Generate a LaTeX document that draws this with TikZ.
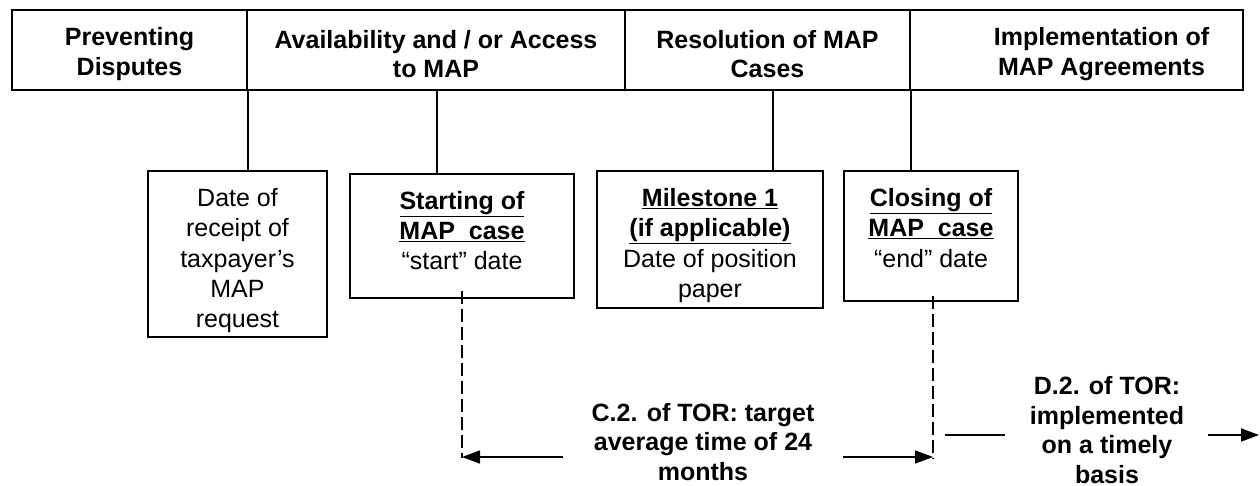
\documentclass[tikz,border=0pt]{standalone}
\usepackage{fontspec}
\setmainfont{Liberation Sans}
\usetikzlibrary{arrows.meta}
\tikzset{
  cell/.style={draw, line width=1.8pt, inner sep=0pt, minimum height=80pt},
  note/.style={align=center, font=\fontsize{25}{29.5}\selectfont\bfseries, inner sep=0pt},
  celltxt/.style={note, yshift=-4pt},
  datebox/.style={draw, line width=1.8pt, inner sep=0pt},
  link/.style={line width=1.8pt},
  dline/.style={line width=1.6pt, dash pattern=on 13pt off 5pt},
  arr/.style={line width=1.5pt, -{Triangle[length=18pt,width=13pt]}},
  plain/.style={line width=1.5pt}
}
\newcommand{\bxt}[3]{\parbox[c][#2][t]{#1}{\centering\fontsize{25}{30}\selectfont\rule{0pt}{36pt}#3}}
\begin{document}
\begin{tikzpicture}[x=1pt,y=-1pt]
\useasboundingbox (0,0) rectangle (1260,486);
% top bar cells
\node[cell, minimum width=235pt, label={[celltxt]center:Preventing\\Disputes}] (c1) at (129.5,50) {};
\node[cell, minimum width=378pt, label={[celltxt]center:Availability and / or Access\\to MAP}] (c2) at (436,50) {};
\node[cell, minimum width=285pt, label={[celltxt]center:Resolution of MAP\\Cases}] (c3) at (767.5,50) {};
\node[cell, minimum width=333pt, label={[celltxt, xshift=25pt]center:Implementation of\\MAP Agreements}] (c4) at (1076.5,50) {};
% date boxes
\node[datebox] (b1) at (237.5,254) {\bxt{179pt}{166pt}{Date of\\receipt of\\taxpayer’s\\MAP\\request}};
\node[datebox] (b2) at (462,236) {\bxt{224pt}{124pt}{\textbf{\underline{Starting of}}\\\textbf{\underline{MAP\ \ case}}\\“start” date}};
\node[datebox] (b3) at (710,239.5) {\bxt{226pt}{137pt}{\textbf{\underline{Milestone 1}}\\\textbf{\underline{(if applicable)}}\\Date of position\\paper}};
\node[datebox] (b4) at (931,236) {\bxt{174pt}{130pt}{\textbf{\underline{Closing of}}\\\textbf{\underline{MAP\ \ case}}\\“end” date}};
% connectors from bar to boxes
\coordinate (k2) at (437,90);
\coordinate (k3) at (773,90);
\draw[link] (c1.south east) -- (c1.south east |- b1.north);
\draw[link] (k2) -- (k2 |- b2.north);
\draw[link] (k3) -- (k3 |- b3.north);
\draw[link] (c3.south east) -- (c3.south east |- b4.north);
% dashed lines
\coordinate (d1) at (462,458);
\coordinate (d2) at (933,458);
\draw[dline] ([yshift=8pt]b2.south) -- (d1);
\draw[dline] ([yshift=6pt]b4.south -| d2) -- (d2);
% C.2 text and arrows
\node[note] (t1) at (703,442) {C.2. of TOR: target\\average time of 24\\months};
\coordinate (a1) at (563,457);
\coordinate (a2) at (843,457);
\draw[arr] (a1) -- (a1 -| d1);
\draw[arr] (a2) -- (a2 -| d2);
% D.2 text and lines
\node[note] (t2) at (1107,430) {D.2. of TOR:\\implemented\\on a timely\\basis};
\coordinate (e1) at (945,435);
\coordinate (e2) at (1005,435);
\coordinate (e3) at (1208,435);
\coordinate (e4) at (1259,435);
\draw[plain] (e1) -- (e2);
\draw[arr] (e3) -- (e4);
\end{tikzpicture}
\end{document}
